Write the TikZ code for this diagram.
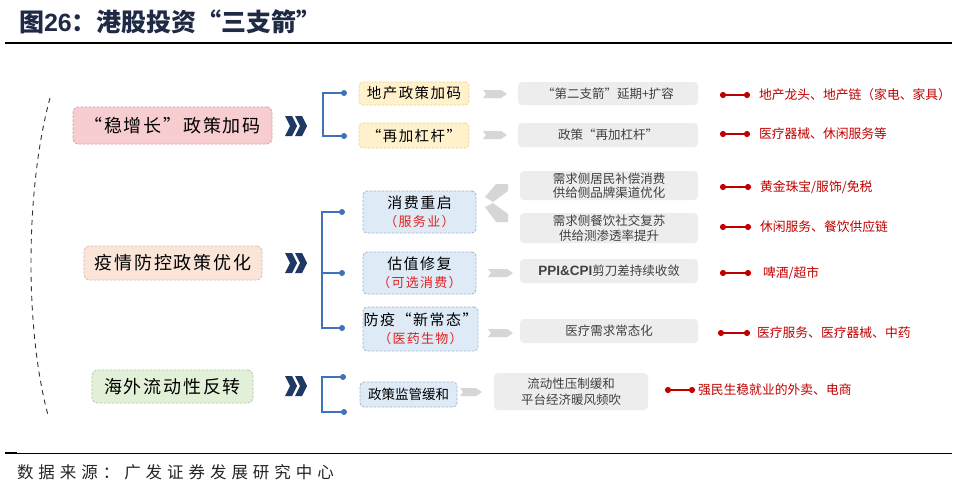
\documentclass[tikz,border=0pt]{standalone}
\usepackage{fontspec}
\setmainfont{Noto Sans CJK SC}
\newfontfamily\cjk{Noto Sans CJK SC}
\newfontfamily\cjkw[LetterSpace=10]{Noto Sans CJK SC}
\newfontfamily\cjks[LetterSpace=30]{Noto Sans CJK SC}
\newfontfamily\lat{Liberation Sans}
\usetikzlibrary{arrows.meta}
\definecolor{titleblue}{HTML}{1F2A44}
\definecolor{pinkf}{HTML}{F8CDD0}
\definecolor{pinkd}{HTML}{C9A3A6}
\definecolor{peachf}{HTML}{FBE5D9}
\definecolor{peachd}{HTML}{D6B9AB}
\definecolor{greenf}{HTML}{E3F0D8}
\definecolor{greend}{HTML}{B4C8A4}
\definecolor{yellowf}{HTML}{FFF1CC}
\definecolor{yellowd}{HTML}{EDD58E}
\definecolor{bluef}{HTML}{DEEAF6}
\definecolor{blued}{HTML}{9DB5D2}
\definecolor{gboxf}{HTML}{EDEDED}
\definecolor{gtext}{HTML}{404040}
\definecolor{garrowc}{HTML}{D6D6D6}
\definecolor{myred}{HTML}{C00000}
\definecolor{brred}{HTML}{E02020}
\definecolor{bblue}{HTML}{3F72B8}
\definecolor{chevnavy}{HTML}{1F3864}
\tikzset{
  every node/.style={inner sep=0pt, outer sep=0pt},
  leftbox/.style 2 args={fill=#1, draw=#2, dash pattern=on 2.5pt off 1.5pt, line width=0.8pt,
    rounded corners=5pt, font=\cjkw\fontsize{18}{20}\selectfont, text=black},
  midbox/.style 2 args={fill=#1, draw=#2, dash pattern=on 2.5pt off 1.5pt, line width=0.8pt,
    rounded corners=4pt, align=center, font=\cjkw\fontsize{14.5}{17}\selectfont, text=black},
  graybox/.style={fill=gboxf, rounded corners=4pt, align=center, text=gtext,
    font=\cjk\fontsize{12.5}{14.5}\selectfont},
  redtxt/.style={anchor=west, text=myred, font=\cjk\fontsize{12.8}{15}\selectfont},
  redline/.style={draw=myred, line width=1.4pt},
  reddot/.style={fill=myred},
  bracket/.style={draw=bblue, line width=1.5pt},
  bdot/.style={fill=bblue},
  dchev/.pic={
    \fill[chevnavy] (0,-10) -- (7,-10) -- (12,0) -- (7,10) -- (0,10) -- (5,0) -- cycle;
    \fill[chevnavy] (10,-10) -- (17,-10) -- (22,0) -- (17,10) -- (10,10) -- (15,0) -- cycle;
  }
}
\newcommand\myGArrow[3]{\fill[garrowc] (#1,#3-4) -- (#2-6,#3-4) -- (#2,#3) -- (#2-6,#3+4) -- (#1,#3+4) -- (#1+3,#3) -- cycle;}
\newcommand\myRedLink[2]{\draw[redline] (#1) -- (#2); \fill[reddot] (#1) circle (3.1); \fill[reddot] (#2) circle (3.1);}
\begin{document}
\begin{tikzpicture}[x=1pt,y=-1pt]
\useasboundingbox (0,0) rectangle (957,493);
\fill[white] (0,0) rectangle (957,493);
% title
\node[anchor=west, text=titleblue, font=\cjk\bfseries\fontsize{25}{28}\selectfont] (title) at (19,22)
  {图{\lat\bfseries 26}：港股投资“三支箭”};
\draw[line width=2.2pt] (5,43) -- (952,43);
% footer
\draw[line width=0.8pt] (5,453) -- (952,453);
\draw[line width=1.8pt] (5,453) -- (17,453);
\node[anchor=west, text=black!85, font=\cjks\fontsize{16.5}{18}\selectfont] (src) at (17,472)
  {数据来源：广发证券发展研究中心};
% dashed arc
\draw[gray!40!black, line width=0.9pt, dash pattern=on 5pt off 4.5pt] (50,98) .. controls (25,190) and (25,330) .. (48,415);
% left boxes
\node[leftbox={pinkf}{pinkd}, minimum width=199pt, minimum height=37pt] (L1) at (172.5,125.5) {“稳增长”政策加码};
\node[leftbox={peachf}{peachd}, minimum width=178pt, minimum height=34pt] (L2) at (173,263) {疫情防控政策优化};
\node[leftbox={greenf}{greend}, minimum width=161pt, minimum height=33pt] (L3) at (172.5,386.5) {海外流动性反转};
% chevrons
\pic at (285,126) {dchev};
\pic at (285,263) {dchev};
\pic at (285,386) {dchev};
% middle boxes
\node[midbox={yellowf}{yellowd}, minimum width=110pt, minimum height=23pt] (M1) at (414,93.5) {地产政策加码};
\node[midbox={yellowf}{yellowd}, minimum width=110pt, minimum height=25pt] (M2) at (414,135.5) {“再加杠杆”};
\node[midbox={bluef}{blued}, minimum width=113pt, minimum height=42pt] (M3) at (419.5,212)
  {{\fontsize{15}{17}\selectfont 消费重启}\\[1pt]{\color{brred}\fontsize{13}{15}\selectfont （服务业）}};
\node[midbox={bluef}{blued}, minimum width=113pt, minimum height=42pt] (M4) at (419.5,273)
  {{\fontsize{15}{17}\selectfont 估值修复}\\[1pt]{\color{brred}\fontsize{13}{15}\selectfont （可选消费）}};
\node[midbox={bluef}{blued}, minimum width=115pt, minimum height=44pt] (M5) at (420.5,329)
  {{\fontsize{15}{17}\selectfont 防疫“新常态”}\\[1pt]{\color{brred}\fontsize{13}{15}\selectfont （医药生物）}};
\node[midbox={bluef}{blued}, minimum width=97pt, minimum height=25pt, font=\cjk\fontsize{13.5}{16}\selectfont] (M6) at (408.5,394.5) {政策监管缓和};
% brackets
\coordinate (a1) at (344,93);
\coordinate (a2) at (344,136);
\draw[bracket] (a1) -- (323,93) -- (323,136) -- (a2);
\fill[bdot] (a1) circle (3);
\fill[bdot] (a2) circle (3);
\coordinate (b1) at (342,212);
\coordinate (b2) at (342,273);
\coordinate (b3) at (342,328);
\draw[bracket] (b1) -- (322,212) -- (322,328) -- (b3);
\draw[bracket] (322,273) -- (b2);
\fill[bdot] (b1) circle (3);
\fill[bdot] (b2) circle (3);
\fill[bdot] (b3) circle (3);
\coordinate (c1) at (343,377);
\coordinate (c2) at (344,412);
\draw[bracket] (c1) -- (322,377) -- (322,412) -- (c2);
\fill[bdot] (c1) circle (3);
\fill[bdot] (c2) circle (3);
% gray arrows
\myGArrow{483}{507}{94}
\myGArrow{483}{507}{135}
\myGArrow{488}{513}{273}
\myGArrow{488}{513}{333}
\myGArrow{460}{482}{392}
\fill[garrowc] (496,184) -- (508,184) -- (508,191) -- (493,202) -- (485,197) -- cycle;
\fill[garrowc] (485,207) -- (493,203) -- (508,214) -- (508,222) -- (496,222) -- cycle;
% gray boxes
\node[graybox, minimum width=180pt, minimum height=23pt] (G1) at (608,93.5) {“第二支箭”延期+扩容};
\node[graybox, minimum width=180pt, minimum height=24pt] (G2) at (608,135) {政策“再加杠杆”};
\node[graybox, minimum width=178pt, minimum height=29pt] (G3) at (609,185.5) {需求侧居民补偿消费\\供给侧品牌渠道优化};
\node[graybox, minimum width=178pt, minimum height=30pt] (G4) at (609,228) {需求侧餐饮社交复苏\\供给测渗透率提升};
\node[graybox, minimum width=178pt, minimum height=24pt] (G5) at (609,271) {{\lat\bfseries\fontsize{13.5}{15}\selectfont PPI\&CPI}剪刀差持续收敛};
\node[graybox, minimum width=178pt, minimum height=24pt] (G6) at (609,331) {医疗需求常态化};
\node[graybox, minimum width=154pt, minimum height=37pt, font=\cjk\fontsize{12.5}{16}\selectfont] (G7) at (571,391.5) {流动性压制缓和\\平台经济暖风频吹};
% red connectors and labels
\coordinate (r1a) at (723,95);  \coordinate (r1b) at (747,95);
\coordinate (r2a) at (723,134); \coordinate (r2b) at (747,134);
\coordinate (r3a) at (723,187); \coordinate (r3b) at (748,187);
\coordinate (r4a) at (723,227); \coordinate (r4b) at (748,227);
\coordinate (r5a) at (723,273); \coordinate (r5b) at (748,273);
\coordinate (r6a) at (721,333); \coordinate (r6b) at (747,333);
\coordinate (r7a) at (668,390); \coordinate (r7b) at (692,390);
\myRedLink{r1a}{r1b}
\myRedLink{r2a}{r2b}
\myRedLink{r3a}{r3b}
\myRedLink{r4a}{r4b}
\myRedLink{r5a}{r5b}
\myRedLink{r6a}{r6b}
\myRedLink{r7a}{r7b}
\node[redtxt] (R1) at (759,95) {地产龙头、地产链（家电、家具）};
\node[redtxt] (R2) at (759,134) {医疗器械、休闲服务等};
\node[redtxt] (R3) at (760,187) {黄金珠宝/服饰/免税};
\node[redtxt] (R4) at (760,227) {休闲服务、餐饮供应链};
\node[redtxt] (R5) at (763,273) {啤酒/超市};
\node[redtxt] (R6) at (757,333) {医疗服务、医疗器械、中药};
\node[redtxt] (R7) at (698,390) {强民生稳就业的外卖、电商};
\end{tikzpicture}
\end{document}
